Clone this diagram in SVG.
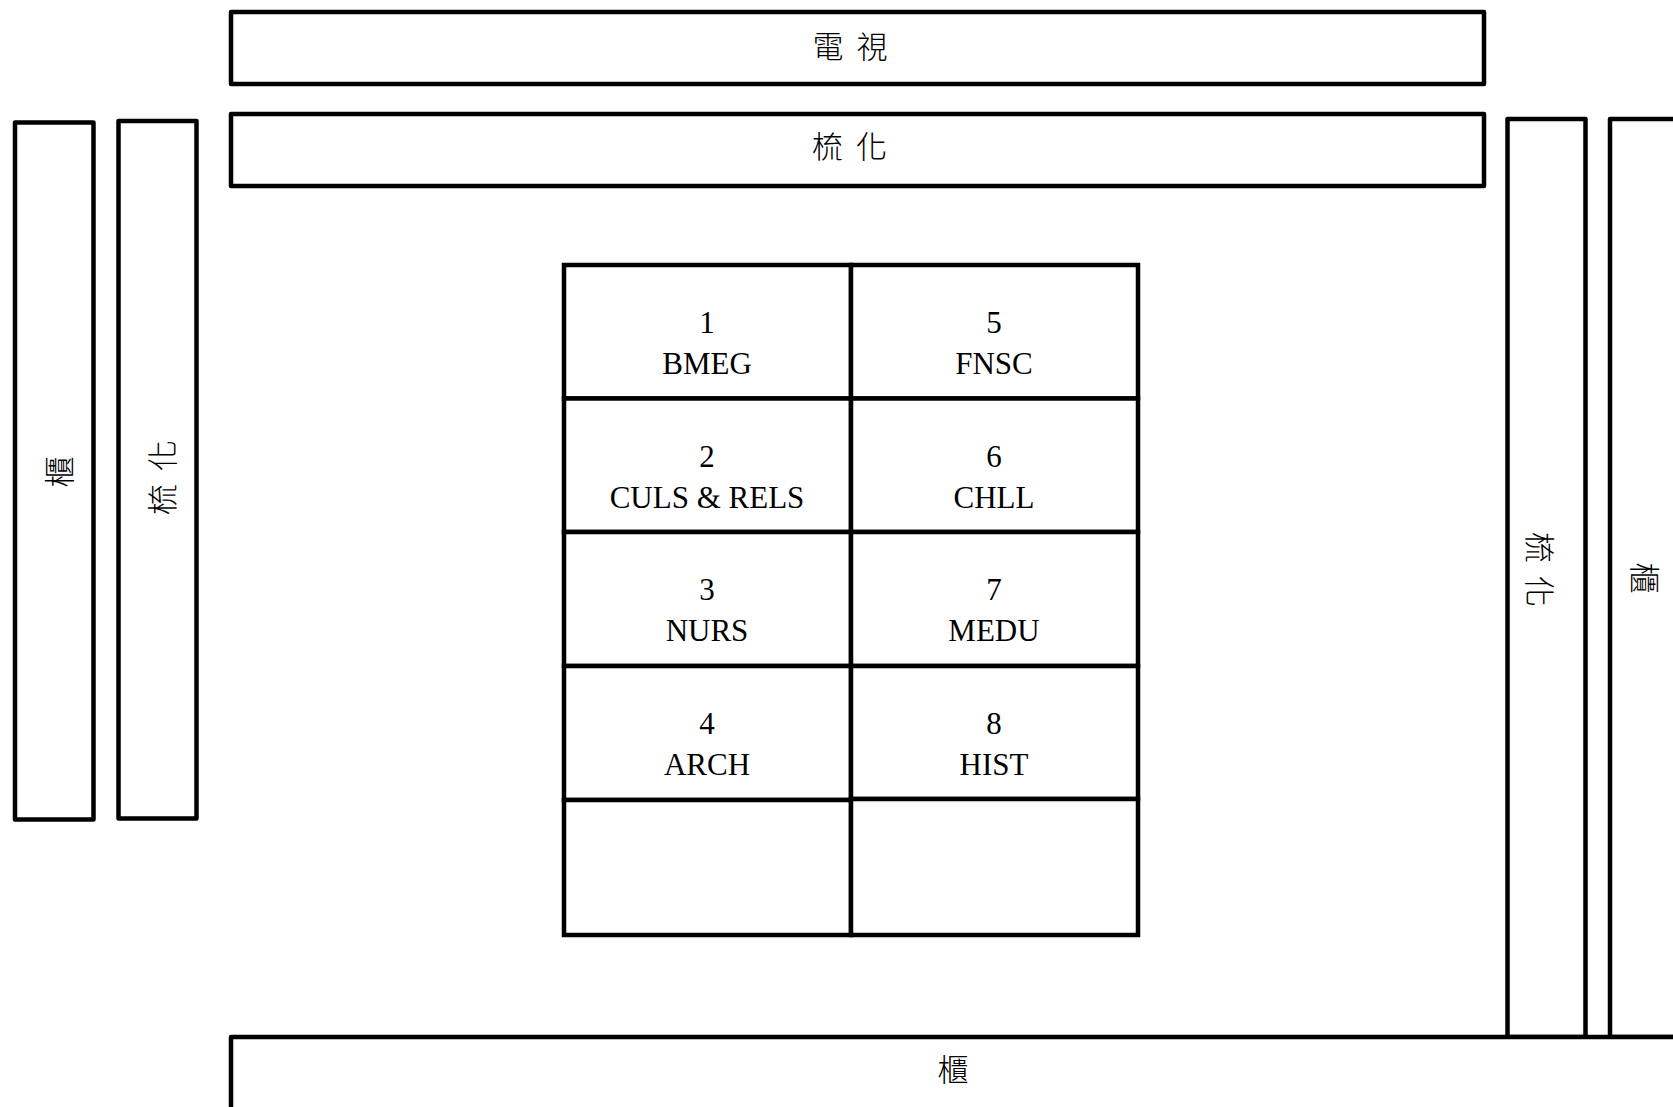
<svg xmlns="http://www.w3.org/2000/svg" width="1673" height="1107" viewBox="0 0 1673 1107">
<style>
.box{fill:#fff;stroke:#000;stroke-width:4.5;stroke-linejoin:round}
.cell{fill:#fff;stroke:#000;stroke-width:4.5;stroke-linejoin:miter}
.cjk{font-family:"Noto Sans CJK TC","Noto Sans CJK SC",sans-serif;font-size:31px;font-weight:300;text-anchor:middle;dominant-baseline:central;fill:#000}
.lat{font-family:"Liberation Serif","Times New Roman",serif;font-size:31px;text-anchor:middle;fill:#000}
</style>
<rect width="1673" height="1107" fill="#fff"/>
<g id="tv">
<rect class="box" x="231" y="12" width="1253" height="72"/>
<text class="cjk" x="851.5" y="44" letter-spacing="3">電 視</text>
</g>
<g id="sofa-top">
<rect class="box" x="231" y="114" width="1253" height="72"/>
<text class="cjk" x="851" y="144.5" letter-spacing="3">梳 化</text>
</g>
<g id="cabinet-left">
<rect class="box" x="15" y="122.5" width="78.5" height="697"/>
<text class="cjk" transform="translate(57,472) rotate(-90)" x="0" y="0">櫃</text>
</g>
<g id="sofa-left">
<rect class="box" x="118.5" y="121" width="78" height="697.5"/>
<text class="cjk" transform="translate(160,476) rotate(-90)" x="0" y="0" letter-spacing="3">梳 化</text>
</g>
<g id="sofa-right">
<rect class="box" x="1507.5" y="119" width="78" height="918"/>
<text class="cjk" transform="translate(1541,571) rotate(90)" x="0" y="0" letter-spacing="3">梳 化</text>
</g>
<g id="cabinet-right">
<rect class="box" x="1610" y="119" width="80" height="918"/>
<text class="cjk" transform="translate(1646,578) rotate(90)" x="0" y="0">櫃</text>
</g>
<g id="cabinet-bottom">
<rect class="box" x="231" y="1037" width="1470" height="100"/>
<text class="cjk" x="953" y="1067.5">櫃</text>
</g>
<g id="seat-1">
<rect class="cell" x="564" y="265" width="287" height="133.5"/>
<text class="lat" x="707" y="333">1</text>
<text class="lat" x="707" y="374">BMEG</text>
</g>
<g id="seat-2">
<rect class="cell" x="564" y="398.5" width="287" height="133.5"/>
<text class="lat" x="707" y="466.5">2</text>
<text class="lat" x="707" y="507.5">CULS &amp; RELS</text>
</g>
<g id="seat-3">
<rect class="cell" x="564" y="532" width="287" height="134"/>
<text class="lat" x="707" y="600">3</text>
<text class="lat" x="707" y="641">NURS</text>
</g>
<g id="seat-4">
<rect class="cell" x="564" y="666" width="287" height="134"/>
<text class="lat" x="707" y="734">4</text>
<text class="lat" x="707" y="775">ARCH</text>
</g>
<g id="seat-empty-left">
<rect class="cell" x="564" y="800" width="287" height="135"/>
</g>
<g id="seat-5">
<rect class="cell" x="851" y="265" width="287" height="133.5"/>
<text class="lat" x="994" y="333">5</text>
<text class="lat" x="994" y="374">FNSC</text>
</g>
<g id="seat-6">
<rect class="cell" x="851" y="398.5" width="287" height="133.5"/>
<text class="lat" x="994" y="466.5">6</text>
<text class="lat" x="994" y="507.5">CHLL</text>
</g>
<g id="seat-7">
<rect class="cell" x="851" y="532" width="287" height="134"/>
<text class="lat" x="994" y="600">7</text>
<text class="lat" x="994" y="641">MEDU</text>
</g>
<g id="seat-8">
<rect class="cell" x="851" y="666" width="287" height="133"/>
<text class="lat" x="994" y="734">8</text>
<text class="lat" x="994" y="775">HIST</text>
</g>
<g id="seat-empty-right">
<rect class="cell" x="851" y="799" width="287" height="136"/>
</g>
<g id="connectors"/>
</svg>
